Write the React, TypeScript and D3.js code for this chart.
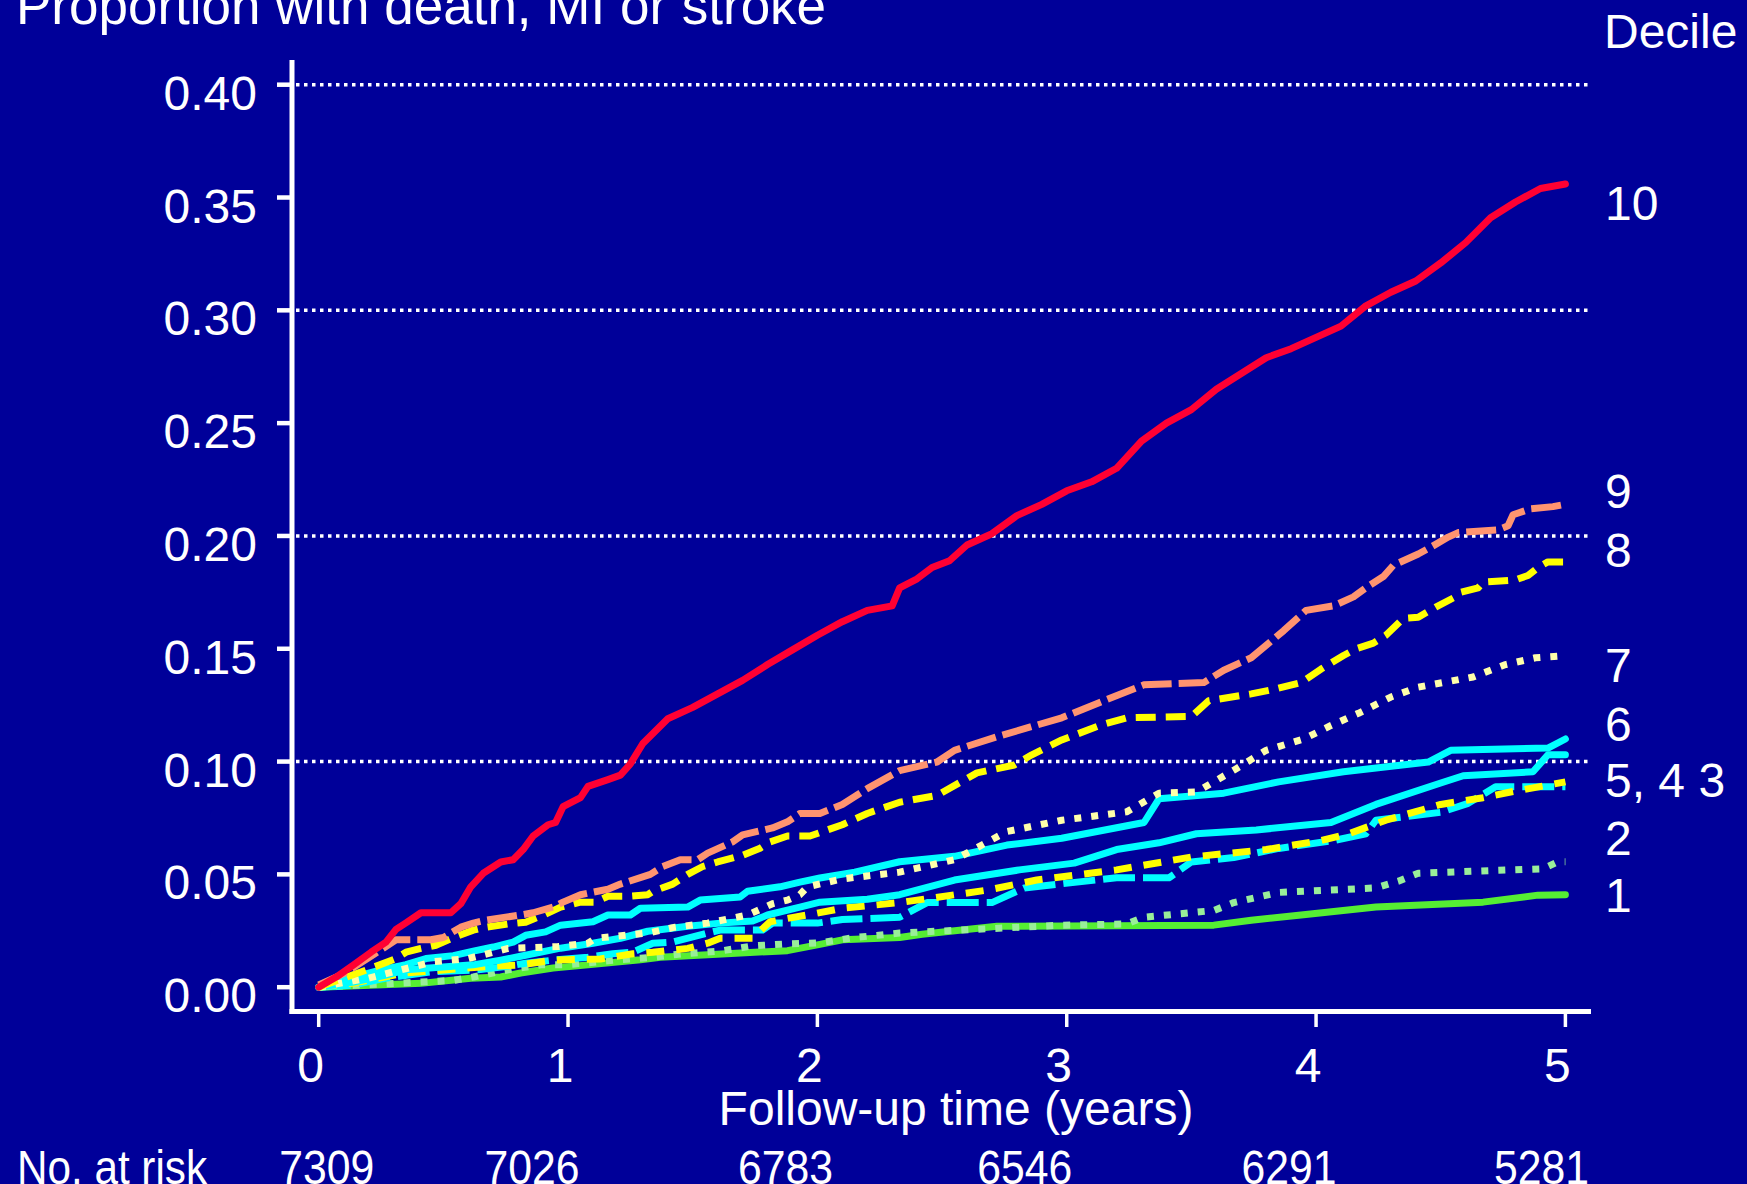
import React from "react";
import * as d3 from "d3";

// Cumulative incidence of death, MI or stroke by risk decile: [years, proportion]
const decile10: [number, number][] = [
  [0, 0], [0.07, 0.0045], [0.14, 0.0099], [0.21, 0.0155], [0.27, 0.02], [0.31, 0.0256],
  [0.35, 0.0285], [0.41, 0.033], [0.53, 0.033], [0.57, 0.037], [0.61, 0.0445], [0.66, 0.0505],
  [0.73, 0.0555], [0.78, 0.0565], [0.82, 0.061], [0.86, 0.067], [0.92, 0.072], [0.95, 0.073],
  [0.98, 0.08], [1.05, 0.084], [1.08, 0.089], [1.16, 0.092], [1.21, 0.094], [1.25, 0.099],
  [1.3, 0.108], [1.4, 0.119], [1.5, 0.124], [1.6, 0.13], [1.7, 0.136], [1.8, 0.143],
  [1.9, 0.1495], [2.0, 0.156], [2.1, 0.162], [2.2, 0.167], [2.3, 0.169], [2.33, 0.177],
  [2.4, 0.181], [2.46, 0.186], [2.53, 0.189], [2.6, 0.196], [2.7, 0.201], [2.8, 0.209],
  [2.9, 0.214], [3.0, 0.22], [3.1, 0.224], [3.2, 0.23], [3.3, 0.242], [3.4, 0.25],
  [3.5, 0.256], [3.6, 0.265], [3.7, 0.272], [3.8, 0.279], [3.9, 0.283], [4.0, 0.288],
  [4.1, 0.293], [4.2, 0.302], [4.3, 0.308], [4.4, 0.313], [4.5, 0.321], [4.6, 0.33],
  [4.7, 0.341], [4.8, 0.348], [4.9, 0.354], [5.0, 0.356],
];
const decile9: [number, number][] = [
  [0, 0.001], [0.1, 0.006], [0.2, 0.013], [0.31, 0.021], [0.45, 0.021], [0.5, 0.022],
  [0.57, 0.0266], [0.62, 0.0284], [0.67, 0.0297], [0.81, 0.032], [0.86, 0.033], [0.94, 0.0355],
  [0.98, 0.0377], [1.05, 0.041], [1.16, 0.0434], [1.21, 0.0457], [1.33, 0.05], [1.38, 0.0535],
  [1.45, 0.0565], [1.52, 0.0565], [1.56, 0.0594], [1.66, 0.0644], [1.7, 0.0675], [1.82, 0.0706],
  [1.88, 0.0733], [1.93, 0.077], [2.01, 0.077], [2.1, 0.081], [2.2, 0.088], [2.33, 0.096],
  [2.48, 0.0998], [2.55, 0.105], [2.72, 0.111], [2.98, 0.1194], [3.15, 0.127], [3.31, 0.134],
  [3.55, 0.135], [3.63, 0.1405], [3.74, 0.146], [3.87, 0.158], [3.96, 0.167], [4.07, 0.169],
  [4.15, 0.173], [4.2, 0.177], [4.27, 0.182], [4.31, 0.187], [4.41, 0.192], [4.46, 0.195],
  [4.53, 0.1995], [4.57, 0.2015], [4.73, 0.2027], [4.77, 0.2045], [4.79, 0.2094], [4.86, 0.212],
  [4.95, 0.213], [5.0, 0.214],
];
const decile8: [number, number][] = [
  [0, 0], [0.1, 0.004], [0.2, 0.008], [0.31, 0.0127], [0.35, 0.0155], [0.41, 0.0172],
  [0.47, 0.0186], [0.54, 0.022], [0.62, 0.0253], [0.67, 0.0266], [0.76, 0.028], [0.83, 0.0288],
  [0.91, 0.0324], [0.97, 0.0355], [1.05, 0.0377], [1.11, 0.0377], [1.16, 0.0403], [1.24, 0.0403],
  [1.32, 0.041], [1.34, 0.0425], [1.42, 0.0457], [1.48, 0.05], [1.54, 0.0535], [1.6, 0.0555],
  [1.7, 0.0585], [1.77, 0.0616], [1.81, 0.0644], [1.88, 0.067], [1.97, 0.067], [2.1, 0.072],
  [2.2, 0.077], [2.33, 0.082], [2.48, 0.085], [2.64, 0.095], [2.79, 0.0985], [2.86, 0.103],
  [2.98, 0.1096], [3.14, 0.1163], [3.24, 0.1194], [3.5, 0.12], [3.57, 0.127], [3.74, 0.13],
  [3.83, 0.132], [3.94, 0.135], [4.02, 0.141], [4.11, 0.147], [4.16, 0.15], [4.23, 0.1525],
  [4.28, 0.156], [4.35, 0.1635], [4.41, 0.164], [4.48, 0.1685], [4.55, 0.1725], [4.58, 0.175],
  [4.65, 0.177], [4.67, 0.1795], [4.8, 0.1805], [4.85, 0.1825], [4.89, 0.186], [4.93, 0.1885],
  [5.0, 0.1885],
];
const decile7: [number, number][] = [
  [0, 0], [0.2, 0.004], [0.46, 0.0113], [0.6, 0.0127], [0.7, 0.0155], [0.76, 0.0172],
  [0.96, 0.018], [1.08, 0.0195], [1.11, 0.0217], [1.32, 0.024], [1.43, 0.0266], [1.56, 0.0284],
  [1.72, 0.032], [1.78, 0.035], [1.82, 0.037], [1.88, 0.0386], [1.93, 0.041], [1.96, 0.0445],
  [2.1, 0.048], [2.33, 0.051], [2.55, 0.0565], [2.76, 0.069], [2.98, 0.074], [3.24, 0.0777],
  [3.37, 0.086], [3.52, 0.0865], [3.67, 0.0962], [3.8, 0.105], [3.95, 0.11], [4.06, 0.116],
  [4.17, 0.1214], [4.3, 0.1286], [4.41, 0.133], [4.63, 0.1375], [4.76, 0.143], [4.88, 0.146],
  [5.0, 0.147],
];
const decile6: [number, number][] = [
  [0, 0], [0.14, 0.0045], [0.25, 0.0077], [0.35, 0.01], [0.43, 0.0127], [0.54, 0.014],
  [0.62, 0.016], [0.7, 0.0178], [0.78, 0.02], [0.83, 0.023], [0.91, 0.0245], [0.97, 0.0275],
  [1.1, 0.029], [1.16, 0.032], [1.25, 0.032], [1.29, 0.035], [1.48, 0.0355], [1.53, 0.0386],
  [1.69, 0.04], [1.72, 0.0425], [1.85, 0.0445], [1.93, 0.0466], [2.01, 0.0484], [2.15, 0.051],
  [2.33, 0.0556], [2.55, 0.058], [2.76, 0.063], [2.98, 0.066], [3.31, 0.073], [3.37, 0.0835],
  [3.63, 0.086], [3.85, 0.091], [4.11, 0.0955], [4.45, 0.0998], [4.54, 0.105], [4.93, 0.106],
  [5.0, 0.11],
];
const decile5: [number, number][] = [
  [0, 0], [0.14, 0.0023], [0.27, 0.0054], [0.35, 0.0077], [0.62, 0.0099], [0.73, 0.012],
  [0.81, 0.0137], [0.97, 0.0173], [1.1, 0.0195], [1.21, 0.0217], [1.32, 0.0248], [1.48, 0.027],
  [1.61, 0.0284], [1.74, 0.0293], [1.8, 0.032], [1.93, 0.0355], [2.01, 0.0377], [2.2, 0.039],
  [2.33, 0.041], [2.55, 0.0475], [2.81, 0.052], [3.03, 0.055], [3.2, 0.061], [3.37, 0.064],
  [3.52, 0.068], [3.76, 0.0697], [4.06, 0.073], [4.24, 0.081], [4.5, 0.0905], [4.59, 0.0937],
  [4.87, 0.0955], [4.93, 0.103], [5.0, 0.103],
];
const decile4: [number, number][] = [
  [0, 0], [0.15, 0.002], [0.34, 0.0062], [0.65, 0.009], [0.81, 0.0099], [0.94, 0.012],
  [1.13, 0.0125], [1.26, 0.0148], [1.34, 0.0155], [1.48, 0.0172], [1.56, 0.0195], [1.61, 0.0217],
  [1.74, 0.0217], [1.81, 0.029], [1.88, 0.0305], [1.98, 0.0324], [2.1, 0.035], [2.33, 0.0375],
  [2.68, 0.043], [2.88, 0.0475], [3.2, 0.052], [3.5, 0.0577], [3.8, 0.061], [4.02, 0.065],
  [4.13, 0.068], [4.28, 0.074], [4.5, 0.081], [4.67, 0.084], [4.78, 0.0865], [5.0, 0.091],
];
const decile3: [number, number][] = [
  [0, 0], [0.14, 0.001], [0.27, 0.004], [0.45, 0.0068], [0.64, 0.0077], [0.74, 0.009],
  [0.83, 0.0106], [0.94, 0.012], [1.08, 0.0133], [1.18, 0.0148], [1.26, 0.0155], [1.34, 0.0195],
  [1.42, 0.02], [1.56, 0.024], [1.61, 0.0253], [1.78, 0.0253], [1.82, 0.0284], [2.0, 0.0284],
  [2.1, 0.03], [2.33, 0.031], [2.44, 0.0375], [2.7, 0.0375], [2.83, 0.044], [3.2, 0.0485],
  [3.41, 0.0485], [3.5, 0.0555], [3.67, 0.0575], [3.85, 0.0615], [4.07, 0.065], [4.2, 0.068],
  [4.24, 0.074], [4.5, 0.0775], [4.61, 0.0815], [4.72, 0.0888], [5.0, 0.0888],
];
const decile2: [number, number][] = [
  [0, 0], [0.41, 0.0023], [0.54, 0.003], [0.62, 0.0045], [0.76, 0.0077], [0.89, 0.0099],
  [1.0, 0.01], [1.21, 0.0122], [1.34, 0.0133], [1.46, 0.0148], [1.61, 0.016], [1.74, 0.0183],
  [1.88, 0.0192], [2.01, 0.0197], [2.15, 0.022], [2.33, 0.024], [2.98, 0.0275], [3.24, 0.028],
  [3.31, 0.031], [3.59, 0.034], [3.67, 0.0375], [3.85, 0.042], [4.24, 0.044], [4.33, 0.047],
  [4.41, 0.0505], [4.91, 0.0525], [4.97, 0.0556], [5.0, 0.0556],
];
const decile1: [number, number][] = [
  [0, 0], [0.41, 0.0017], [0.61, 0.004], [0.73, 0.0045], [0.81, 0.0063], [0.94, 0.0085],
  [1.08, 0.0099], [1.29, 0.0122], [1.37, 0.0133], [1.56, 0.0144], [1.88, 0.0162], [2.01, 0.019],
  [2.1, 0.021], [2.33, 0.022], [2.42, 0.0235], [2.72, 0.027], [3.59, 0.0275], [3.74, 0.0297],
  [3.94, 0.032], [4.24, 0.0355], [4.67, 0.0377], [4.89, 0.0408], [5.0, 0.041],
];

const xTicks = [0, 1, 2, 3, 4, 5];
const yTicks = [0, 0.05, 0.1, 0.15, 0.2, 0.25, 0.3, 0.35, 0.4];
const gridValues = [0.1, 0.2, 0.3, 0.4];
const atRiskCounts = [7309, 7026, 6783, 6546, 6291, 5281];
const endLabels = ["10", "9", "8", "7", "6", "5, 4 3", "2", "1"];

// Drawing styles, lowest decile first so decile 10 sits on top
const series = [
  { data: decile1, color: "#55ee33", dash: null },
  { data: decile2, color: "#99ee99", dash: "7 10" },
  { data: decile3, color: "#00ffff", dash: "32 8" },
  { data: decile4, color: "#ffff00", dash: "18 12" },
  { data: decile5, color: "#00ffff", dash: null },
  { data: decile6, color: "#00ffff", dash: null },
  { data: decile7, color: "#ffffaa", dash: "7 10" },
  { data: decile8, color: "#ffff00", dash: "20 10" },
  { data: decile9, color: "#ff9470", dash: "30 7" },
  { data: decile10, color: "#ff0033", dash: null },
];

const W = 1747;
const H = 1184;
const BG = "#000099";
const FONT = "'Liberation Sans', Arial, Helvetica, sans-serif";
const atRiskDx = [8, -36, -32, -42, -27, -24];
const endLabelY = [220, 508, 567, 682, 741, 797, 855, 912];

export default function App() {
  const x = d3.scaleLinear().domain([0, 5]).range([318.7, 1565.4]);
  const y = d3.scaleLinear().domain([0, 0.4]).range([987.2, 84.7]);
  const line = d3
    .line<[number, number]>()
    .x((d) => x(d[0]))
    .y((d) => y(d[1]))
    .curve(d3.curveLinear);

  const axisX = 292;
  const axisY = 1011.5;
  const plotRight = 1591;

  return (
    <svg
      width={W}
      height={H}
      viewBox={`0 0 ${W} ${H}`}
      style={{ position: "fixed", left: 0, top: 0, display: "block" }}
      fontFamily={FONT}
    >
      <rect x={0} y={0} width={W} height={H} fill={BG} />

      {/* dotted reference lines */}
      {gridValues.map((g) => (
        <line
          key={`g${g}`}
          x1={axisX + 4}
          x2={plotRight}
          y1={y(g)}
          y2={y(g)}
          stroke="#ffffff"
          strokeWidth={3.5}
          strokeDasharray="3.5 4.5"
        />
      ))}

      {/* curves */}
      {series.map((s, i) => (
        <path
          key={`s${i}`}
          d={line(s.data) || ""}
          fill="none"
          stroke={s.color}
          strokeWidth={7}
          strokeLinejoin="round"
          strokeLinecap={s.dash ? "butt" : "round"}
          strokeDasharray={s.dash || undefined}
        />
      ))}

      {/* axes */}
      <line x1={axisX} x2={axisX} y1={60} y2={axisY + 2.5} stroke="#fff" strokeWidth={5} />
      <line x1={axisX - 2.5} x2={plotRight} y1={axisY} y2={axisY} stroke="#fff" strokeWidth={5} />

      {yTicks.map((t) => (
        <g key={`yt${t}`}>
          <line x1={277} x2={axisX} y1={y(t)} y2={y(t)} stroke="#fff" strokeWidth={4.5} />
          <text x={257} y={y(t) + 25} textAnchor="end" fill="#fff" fontSize={48}>
            {d3.format(".2f")(t)}
          </text>
        </g>
      ))}

      {xTicks.map((t) => (
        <g key={`xt${t}`}>
          <line x1={x(t)} x2={x(t)} y1={axisY} y2={1027} stroke="#fff" strokeWidth={3.5} />
          <text x={x(t) - 8} y={1082} textAnchor="middle" fill="#fff" fontSize={48}>
            {t}
          </text>
        </g>
      ))}

      {/* titles */}
      <text x={16} y={24} fill="#fff" fontSize={53}>
        Proportion with death, MI or stroke
      </text>
      <text x={956} y={1125} textAnchor="middle" fill="#fff" fontSize={48}>
        Follow-up time (years)
      </text>
      <text x={1604} y={48} fill="#fff" fontSize={48}>
        Decile
      </text>

      {/* decile labels at the curve ends */}
      {endLabels.map((l, i) => (
        <text key={`el${i}`} x={1605} y={endLabelY[i]} fill="#fff" fontSize={48}>
          {l}
        </text>
      ))}

      {/* numbers at risk */}
      <text x={17} y={1184} fill="#fff" fontSize={48} textLength={190} lengthAdjust="spacingAndGlyphs">
        No. at risk
      </text>
      {atRiskCounts.map((n, i) => (
        <text
          key={`ar${i}`}
          x={x(xTicks[i]) + atRiskDx[i]}
          y={1184}
          textAnchor="middle"
          fill="#fff"
          fontSize={48}
          textLength={95}
          lengthAdjust="spacingAndGlyphs"
        >
          {n}
        </text>
      ))}
    </svg>
  );
}
